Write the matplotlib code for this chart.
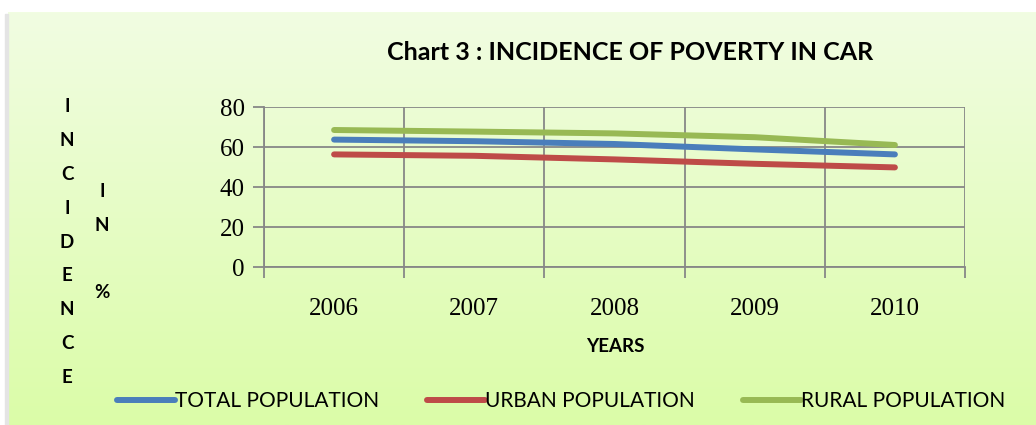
import numpy as np
import matplotlib
matplotlib.use("Agg")
import matplotlib.pyplot as plt

years = ["2006", "2007", "2008", "2009", "2010"]
total_pop = [63.7, 62.9, 61.5, 58.8, 56.3]
urban_pop = [56.3, 55.6, 53.8, 51.6, 49.8]
rural_pop = [68.5, 67.7, 66.8, 64.9, 61.0]
y_ticks = [0, 20, 40, 60, 80]

fig = plt.figure(figsize=(10.36, 4.25), dpi=100)
fig.patch.set_facecolor("white")

# gradient background of the chart area
bg = fig.add_axes([8 / 1036, 0, 1 - 8 / 1036, 1 - 12 / 425], zorder=0)
top = np.array([241, 253, 226]) / 255
bot = np.array([219, 252, 168]) / 255
t = np.linspace(0, 1, 256)[:, None]
grad = (top[None, :] * (1 - t) + bot[None, :] * t)[:, None, :]
bg.imshow(grad, aspect="auto", extent=[0, 1, 0, 1])
bg.axis("off")
# faint shadow on the left edge
fig.patches.append(plt.Rectangle((5 / 1036, 0), 3 / 1036, 1 - 14 / 425,
                                 transform=fig.transFigure, color="#e4e4e4", zorder=0))

ax = fig.add_axes([264 / 1036, 1 - 267 / 425, (965 - 264) / 1036, (267 - 107) / 425], zorder=2)
ax.patch.set_alpha(0)

x = np.arange(len(years))
ax.plot(x, total_pop, color="#4a7ebb", lw=4.3, solid_capstyle="round", label="TOTAL POPULATION", zorder=3)
ax.plot(x, urban_pop, color="#be4b48", lw=4.3, solid_capstyle="round", label="URBAN POPULATION", zorder=3)
ax.plot(x, rural_pop, color="#98b954", lw=4.3, solid_capstyle="round", label="RURAL POPULATION", zorder=3)

ax.set_xlim(-0.5, len(years) - 0.5)
ax.set_ylim(0, 80)
ax.set_yticks(y_ticks)
ax.set_xticks(np.arange(-0.5, len(years), 1.0))
ax.set_xticklabels([])
ax.set_xticks(x, minor=True)
ax.set_xticklabels(years, minor=True)
ax.grid(True, which="major", color="#878787", lw=1.3)
ax.set_axisbelow(True)
for s in ["top", "right"]:
    ax.spines[s].set_visible(False)
for s in ["left", "bottom"]:
    ax.spines[s].set_color("#878787")
    ax.spines[s].set_linewidth(1.3)
ax.tick_params(which="major", length=8, width=1.3, color="#878787")
ax.tick_params(which="minor", length=0, pad=22)
ax.tick_params(axis="y", pad=6)
for lab in ax.get_yticklabels() + ax.get_xticklabels(minor=True):
    lab.set_fontfamily("Liberation Serif")
    lab.set_fontsize(18)

fig.text(630 / 1036, 1 - 52 / 425, "Chart 3 : INCIDENCE OF POVERTY IN CAR",
         ha="center", va="center", fontsize=18, fontweight="bold", family="Lato")
fig.text(615 / 1036, 1 - 347 / 425, "YEARS", ha="center", va="center",
         fontsize=13.5, fontweight="bold", family="Lato")
fig.text(67 / 1036, 1 - 242 / 425, "\n".join("INCIDENCE"), ha="center", va="center",
         fontsize=13.5, fontweight="bold", family="Lato", linespacing=2.2)
fig.text(102 / 1036, 1 - 242 / 425, "I\nN\n\n%", ha="center", va="center",
         fontsize=13.5, fontweight="bold", family="Lato", linespacing=2.2)

leg = fig.legend(loc="center", bbox_to_anchor=(561 / 1036, 1 - 401 / 425), ncol=3,
                 frameon=False, handlelength=2.8, handletextpad=0.0, columnspacing=2.3,
                 prop={"family": "Lato", "size": 15})

fig.savefig("out.png", dpi=100)
